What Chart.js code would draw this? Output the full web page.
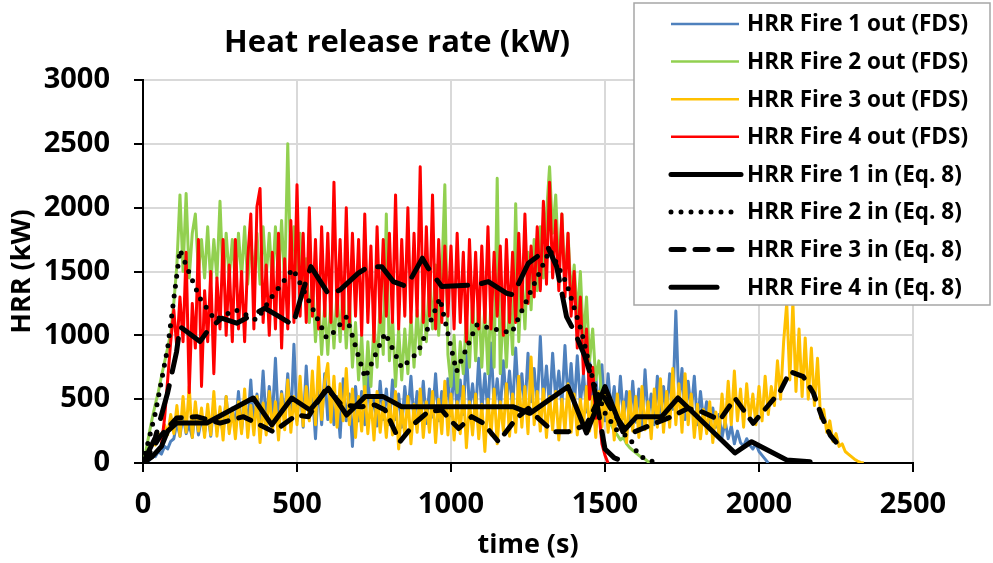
<!DOCTYPE html>
<html>
<head>
<meta charset="utf-8">
<script src="https://cdn.jsdelivr.net/npm/chart.js@4.4.0/dist/chart.umd.min.js"></script>
<style>
  html, body { margin: 0; padding: 0; background: #fff; }
</style>
</head>
<body>
<canvas id="myChart" width="993" height="563"></canvas>
<script>
// FDS output, sampled every 10 s (kW)
const fdsStep = 10;

const fire1Out = [
  0, 30, 20, 60, 50, 90, 70, 130, 110, 170,
  190, 320, 210, 380, 230, 300, 200, 420, 220, 350,
  240, 400, 210, 470, 250, 380, 230, 520, 260, 430,
  280, 560, 260, 480, 300, 650, 270, 540, 330, 720,
  300, 600, 340, 820, 290, 560, 350, 700, 310, 930,
  330, 620, 280, 760, 350, 560, 190, 640, 300, 700,
  340, 580, 300, 520, 200, 660, 330, 540, 130, 600,
  330, 560, 300, 680, 360, 520, 290, 640, 340, 580,
  300, 650, 340, 540, 280, 600, 370, 680, 320, 560,
  350, 640, 310, 580, 360, 700, 330, 560, 380, 660,
  370, 760, 400, 650, 380, 880, 420, 620, 390, 820,
  410, 700, 380, 940, 430, 660, 400, 800, 450, 720,
  420, 900, 460, 700, 410, 860, 480, 740, 430, 990,
  470, 760, 430, 860, 500, 720, 450, 920, 480, 780,
  430, 840, 470, 700, 400, 800, 440, 680, 380, 770,
  330, 700, 400, 600, 300, 680, 350, 560, 290, 640,
  320, 580, 280, 730, 350, 540, 300, 680, 330, 600,
  380, 700, 420, 1190, 460, 740, 340, 640, 400, 680,
  300, 560, 330, 480, 270, 430, 280, 380, 200, 330,
  190, 290, 150, 250, 160, 130, 190, 140, 110, 150,
  90, 60, 30, 0
];

const fire2Out = [
  0, 100, 230, 350, 460, 560, 680, 790, 900, 1020,
  1250, 1550, 2100, 1500, 2110, 1450, 1800, 1950, 1500, 1750,
  1450, 1850, 1400, 1750, 1450, 2050, 1400, 1800, 1450, 1750,
  1400, 1800, 1450, 1850, 1400, 1750, 1450, 1800, 1400, 1850,
  1450, 1800, 1400, 1850, 1450, 1900, 1400, 2500, 1450, 1850,
  1500, 1800, 1300, 1600, 1100, 1450, 950, 1300, 850, 1250,
  850, 1300, 900, 1350, 950, 1400, 900, 1300, 750, 1100,
  650, 1000, 500, 950, 600, 1100, 750, 1250, 850, 1950,
  800, 1150, 600, 1050, 650, 1050, 700, 1150, 750, 1200,
  850, 1300, 950, 1450, 1050, 1550, 1000, 1450, 2180, 850,
  600, 1000, 550, 950, 700, 1150, 750, 1300, 800, 1300,
  750, 1250, 700, 1300, 750, 2230, 700, 1250, 750, 1300,
  850, 2030, 950, 1500, 1050, 1650, 1200, 1750, 1350, 1850,
  1450, 1950, 2320, 1800, 2100, 1500, 1950, 1400, 1800, 1300,
  1550, 1150, 1500, 950, 1300, 800, 1050, 650, 800, 500,
  450, 350, 300, 250, 220, 180, 200, 150, 120, 100,
  80, 60, 40, 30, 10, 0
];

const fire3Out = [
  0, 50, 90, 160, 140, 230, 190, 300, 220, 380,
  230, 450, 210, 520, 240, 600, 200, 480, 250, 430,
  200, 460, 220, 560, 210, 440, 180, 520, 230, 420,
  190, 480, 230, 580, 200, 450, 220, 520, 160, 470,
  220, 560, 250, 480, 180, 540, 260, 650, 240, 520,
  300, 680, 290, 600, 330, 720, 300, 830, 340, 640,
  780, 320, 680, 280, 620, 330, 740, 300, 580, 200,
  520, 250, 600, 230, 500, 180, 560, 240, 480, 200,
  500, 220, 560, 110, 450, 210, 520, 150, 460, 240,
  580, 200, 480, 240, 560, 160, 500, 230, 640, 220,
  540, 180, 480, 230, 600, 120, 480, 220, 540, 190,
  460, 90, 500, 220, 580, 150, 480, 250, 620, 210,
  540, 240, 680, 280, 600, 230, 830, 300, 560, 250,
  580, 200, 520, 260, 560, 180, 500, 250, 620, 240,
  540, 220, 500, 280, 600, 250, 520, 200, 560, 280,
  580, 240, 500, 180, 540, 260, 480, 160, 560, 250,
  520, 200, 600, 260, 480, 190, 580, 280, 660, 240,
  560, 280, 740, 300, 620, 240, 700, 300, 540, 200,
  460, 190, 420, 230, 480, 160, 400, 220, 540, 280,
  640, 300, 720, 330, 580, 280, 620, 340, 540, 300,
  600, 330, 680, 380, 600, 450, 800, 500, 950, 1250,
  650, 1260, 560, 1050, 520, 980, 500, 900, 450, 820,
  350, 420, 240, 330, 170, 230, 130, 150, 90, 70,
  50, 30, 15, 5, 0
];

const fire4Out = [
  null, null, null, null, null, null, 150, 350, 650, 950,
  1200, 900, 1300, 950, 1650, 550, 1250, 900, 1750, 600,
  1350, 950, 1500, 700, 1450, 1050, 1750, 1000, 1550, 950,
  1750, 1050, 1500, 950, 1600, 1950, 1050, 2010, 2150, 1100,
  1550, 1000, 1650, 1050, 1800, 900, 1600, 1050, 1900, 1100,
  2180, 1150, 1800, 1100, 2000, 1150, 1750, 1050, 1850, 1150,
  1800, 1100, 2200, 1150, 1750, 1050, 2000, 1100, 1800, 1150,
  1750, 1000, 1950, 1100, 1700, 950, 1850, 1100, 1750, 1150,
  1800, 1100, 2100, 1050, 1750, 1150, 2000, 1100, 1800, 1150,
  2320, 1100, 1850, 1150, 2100, 1050, 1750, 1100, 1700, 1150,
  1700, 1050, 1800, 1100, 1650, 950, 1750, 1100, 1650, 1050,
  1700, 1100, 1850, 1050, 1650, 1150, 1700, 1000, 1750, 1100,
  1650, 1100, 1800, 1200, 1950, 1250, 1700, 1300, 1850, 1350,
  2050, 1400, 2200, 1450, 1900, 1350, 1950, 1300, 1800, 1150,
  1500, 900, 1300, 700, 1050, 500, 750, 350, 400, 150,
  60, 0
];

// Eq. 8 input curves (time s / kW)
const fire1InT = [0, 30, 60, 80, 109, 207, 358, 418, 483, 542, 602, 661, 721, 780, 840, 1201, 1256, 1380, 1440, 1500, 1558, 1603, 1684, 1737, 1922, 1976, 2090, 2166];
const fire1InV = [0, 50, 130, 250, 313, 313, 509, 298, 509, 415, 587, 376, 520, 520, 441, 441, 389, 598, 235, 598, 245, 363, 363, 509, 78, 167, 24, 10];

const fire2InT = [0, 40, 80, 120, 150, 185, 234, 300, 369, 418, 487, 542, 596, 617, 661, 721, 786, 840, 894, 964, 1018, 1083, 1197, 1321, 1375, 1424, 1462, 1500, 1538, 1581, 1608, 1640, 1680];
const fire2InV = [0, 390, 900, 1670, 1490, 1290, 1120, 1200, 1120, 1300, 1520, 1254, 980, 1019, 1146, 666, 1019, 745, 872, 1291, 716, 1082, 1019, 1669, 1408, 1029, 637, 392, 259, 196, 63, 20, 0];

const fire3InT = [0, 55, 109, 174, 250, 326, 423, 499, 537, 596, 645, 710, 753, 786, 834, 883, 926, 970, 997, 1025, 1067, 1104, 1154, 1213, 1251, 1289, 1332, 1381, 1440, 1489, 1520, 1559, 1597, 1662, 1716, 1770, 1813, 1873, 1922, 1981, 2036, 2068, 2101, 2144, 2177, 2204, 2231, 2258];
const fire3InV = [0, 206, 352, 363, 313, 363, 245, 376, 363, 587, 455, 441, 455, 415, 167, 313, 402, 415, 337, 270, 363, 313, 167, 352, 428, 337, 245, 245, 300, 548, 420, 284, 245, 311, 363, 428, 402, 337, 507, 311, 468, 559, 716, 676, 546, 363, 219, 141];

const fire4InT = [0, 40, 80, 109, 120, 185, 212, 255, 304, 396, 440, 487, 520, 545, 604, 640, 699, 732, 775, 813, 856, 907, 926, 970, 1083, 1121, 1180, 1202, 1251, 1316, 1343, 1375, 1403, 1435, 1462, 1500, 1530, 1575];
const fire4InV = [0, 200, 550, 872, 1068, 951, 1042, 1134, 1095, 1212, 1150, 1082, 1356, 1538, 1317, 1356, 1487, 1538, 1538, 1421, 1382, 1604, 1526, 1382, 1395, 1421, 1330, 1317, 1565, 1683, 1538, 1147, 1017, 833, 624, 110, 40, 0];

const seriesLabels = [
  'HRR Fire 1 out (FDS)', 'HRR Fire 2 out (FDS)', 'HRR Fire 3 out (FDS)', 'HRR Fire 4 out (FDS)',
  'HRR Fire 1 in (Eq. 8)', 'HRR Fire 2 in (Eq. 8)', 'HRR Fire 3 in (Eq. 8)', 'HRR Fire 4 in (Eq. 8)'
];

function stepped(vals) {
  return vals.map((v, i) => ({ x: i * fdsStep, y: v }));
}
function paired(ts, vs) {
  return ts.map((t, i) => ({ x: t, y: vs[i] }));
}

const font = '"Open Sans"';

const fdsLine = (label, data, color, order) => ({
  label, data: stepped(data), borderColor: color, backgroundColor: color,
  borderWidth: 3, borderJoinStyle: 'round', pointRadius: 0, order
});
const eqLine = (label, ts, vs, dash, order) => ({
  label, data: paired(ts, vs), borderColor: '#000', backgroundColor: '#000',
  borderWidth: 5, borderDash: dash, borderCapStyle: 'round', borderJoinStyle: 'round',
  pointRadius: 0, order
});

// legend sample lengths
const legendSample = [68, 68, 68, 68, 70, 68, 68, 46];

const overlay = {
  id: 'overlay',
  afterDraw(chart) {
    const ctx = chart.ctx;
    ctx.save();
    ctx.fillStyle = '#000';
    ctx.font = 'bold 31px ' + font;
    ctx.textAlign = 'center';
    ctx.textBaseline = 'middle';
    ctx.fillText('Heat release rate (kW)', 397, 43);

    ctx.fillStyle = '#fff';
    ctx.fillRect(634, 3, 356, 302);
    ctx.strokeStyle = '#a6a6a6';
    ctx.lineWidth = 1.5;
    ctx.strokeRect(634, 3, 356, 302);

    ctx.font = 'bold 22.5px ' + font;
    ctx.textAlign = 'left';
    chart.data.datasets.forEach((ds, i) => {
      const y = 24 + i * 37.6;
      ctx.beginPath();
      ctx.strokeStyle = ds.borderColor;
      ctx.lineWidth = ds.borderWidth < 4 ? 2.5 : ds.borderWidth;
      ctx.lineCap = ds.borderCapStyle || 'butt';
      ctx.setLineDash(i === 7 ? [] : (ds.borderDash || []));
      ctx.moveTo(671, y);
      ctx.lineTo(671 + legendSample[i], y);
      ctx.stroke();
      ctx.setLineDash([]);
      ctx.fillStyle = '#000';
      ctx.fillText(ds.label, 747, y + 1);
    });
    ctx.restore();
  }
};

const tickFont = { family: font, size: 29, weight: 'bold' };
const axisTitleFont = { family: font, size: 27, weight: 'bold' };

new Chart(document.getElementById('myChart'), {
  type: 'line',
  data: {
    datasets: [
      fdsLine(seriesLabels[0], fire1Out, '#4f81bd', 8),
      fdsLine(seriesLabels[1], fire2Out, '#92d050', 7),
      fdsLine(seriesLabels[2], fire3Out, '#ffc000', 6),
      fdsLine(seriesLabels[3], fire4Out, '#ff0000', 5),
      eqLine(seriesLabels[4], fire1InT, fire1InV, [], 4),
      eqLine(seriesLabels[5], fire2InT, fire2InV, [0, 10], 3),
      eqLine(seriesLabels[6], fire3InT, fire3InV, [13, 11], 2),
      eqLine(seriesLabels[7], fire4InT, fire4InV, [34, 14], 1)
    ]
  },
  options: {
    responsive: false,
    animation: false,
    layout: { padding: { top: 80, right: 80, left: 6, bottom: 1 } },
    plugins: { legend: { display: false }, title: { display: false }, tooltip: { enabled: false } },
    scales: {
      x: {
        type: 'linear', min: 0, max: 2500,
        ticks: { stepSize: 500, padding: 15, color: '#000', font: tickFont, callback: (v) => String(v) },
        grid: { color: '#d9d9d9', lineWidth: 2, tickColor: '#000', tickWidth: 2, tickLength: 9 },
        border: { color: '#000', width: 2 },
        title: { display: true, text: 'time (s)', color: '#000', padding: 0, font: axisTitleFont },
        afterFit(scale) { scale.height = 99; }
      },
      y: {
        min: 0, max: 3000,
        ticks: { stepSize: 500, padding: 24, color: '#000', font: tickFont, callback: (v) => String(v) },
        grid: { color: '#d9d9d9', lineWidth: 2, tickColor: '#000', tickWidth: 2, tickLength: 9 },
        border: { color: '#000', width: 2 },
        title: { display: true, text: 'HRR (kW)', color: '#000', padding: 0, font: axisTitleFont },
        afterFit(scale) { scale.width = 137; }
      }
    }
  },
  plugins: [overlay]
});
</script>
</body>
</html>
